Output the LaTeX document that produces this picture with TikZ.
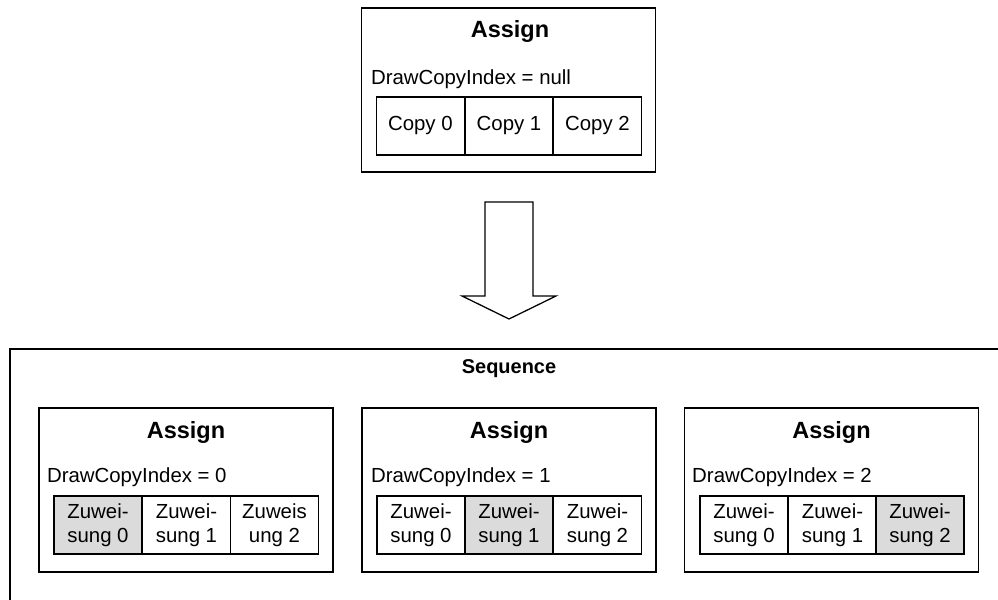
\documentclass[tikz,border=0pt]{standalone}
\usepackage{fontspec}
\setmainfont{Liberation Sans}
\usepackage{tikz}

\begin{document}
\begin{tikzpicture}[line width=0.9pt,
  every node/.style={font=\fontsize{14.5}{17}\selectfont},
  assignbox/.style={draw, minimum width=7.35cm, minimum height=4.1cm, inner sep=0pt},
  title/.style={font=\fontsize{16.7}{20}\selectfont\bfseries},
  index/.style={anchor=west, inner sep=0pt},
  cell/.style={draw, minimum width=2.2cm, minimum height=1.45cm, inner sep=0pt, align=center},
  active/.style={cell, fill=black!14}]
\useasboundingbox (0,0) rectangle (24.95,14.975);
%original assign
\node[assignbox] (top) at (12.71,12.725) {};
\node[title] (toptitle) at (12.75,14.2) {Assign};
\node[index] (topidx) at (9.26,12.99) {DrawCopyIndex = null};
\node[cell] (copy0) at (10.51,11.825) {Copy 0};
\node[cell] (copy1) at (12.725,11.825) {Copy 1};
\node[cell] (copy2) at (14.935,11.825) {Copy 2};
%block arrow
\draw[fill=white] (12.125,9.925) -- (13.325,9.925) -- (13.325,7.575) -- (13.9,7.575)
  -- (12.725,7.0) -- (11.55,7.575) -- (12.125,7.575) -- cycle;
%sequence
\draw (0.25,-0.2) -- (0.25,6.25) -- (25.2,6.25);
\node[font=\fontsize{14.2}{17}\selectfont\bfseries] (seq) at (12.725,5.75) {Sequence};
%assign 0
\node[assignbox] (asg0) at (4.65,2.725) {};
\node[title] (title0) at (4.65,4.175) {Assign};
\node[index] (idx0) at (1.16,3.05) {DrawCopyIndex = 0};
\node[active] (z00) at (2.45,1.85) {Zuwei-\\sung 0};
\node[cell] (z01) at (4.6625,1.85) {Zuwei-\\sung 1};
\node[cell] (z02) at (6.8625,1.85) {Zuweis\\ung 2};
%assign 1
\node[assignbox] (asg1) at (12.725,2.725) {};
\node[title] (title1) at (12.725,4.175) {Assign};
\node[index] (idx1) at (9.26,3.05) {DrawCopyIndex = 1};
\node[cell] (z10) at (10.525,1.85) {Zuwei-\\sung 0};
\node[active] (z11) at (12.725,1.85) {Zuwei-\\sung 1};
\node[cell] (z12) at (14.9375,1.85) {Zuwei-\\sung 2};
%assign 2
\node[assignbox] (asg2) at (20.7875,2.725) {};
\node[title] (title2) at (20.7875,4.175) {Assign};
\node[index] (idx2) at (17.29,3.05) {DrawCopyIndex = 2};
\node[cell] (z20) at (18.6,1.85) {Zuwei-\\sung 0};
\node[cell] (z21) at (20.8125,1.85) {Zuwei-\\sung 1};
\node[active] (z22) at (23.0,1.85) {Zuwei-\\sung 2};
\end{tikzpicture}
\end{document}
